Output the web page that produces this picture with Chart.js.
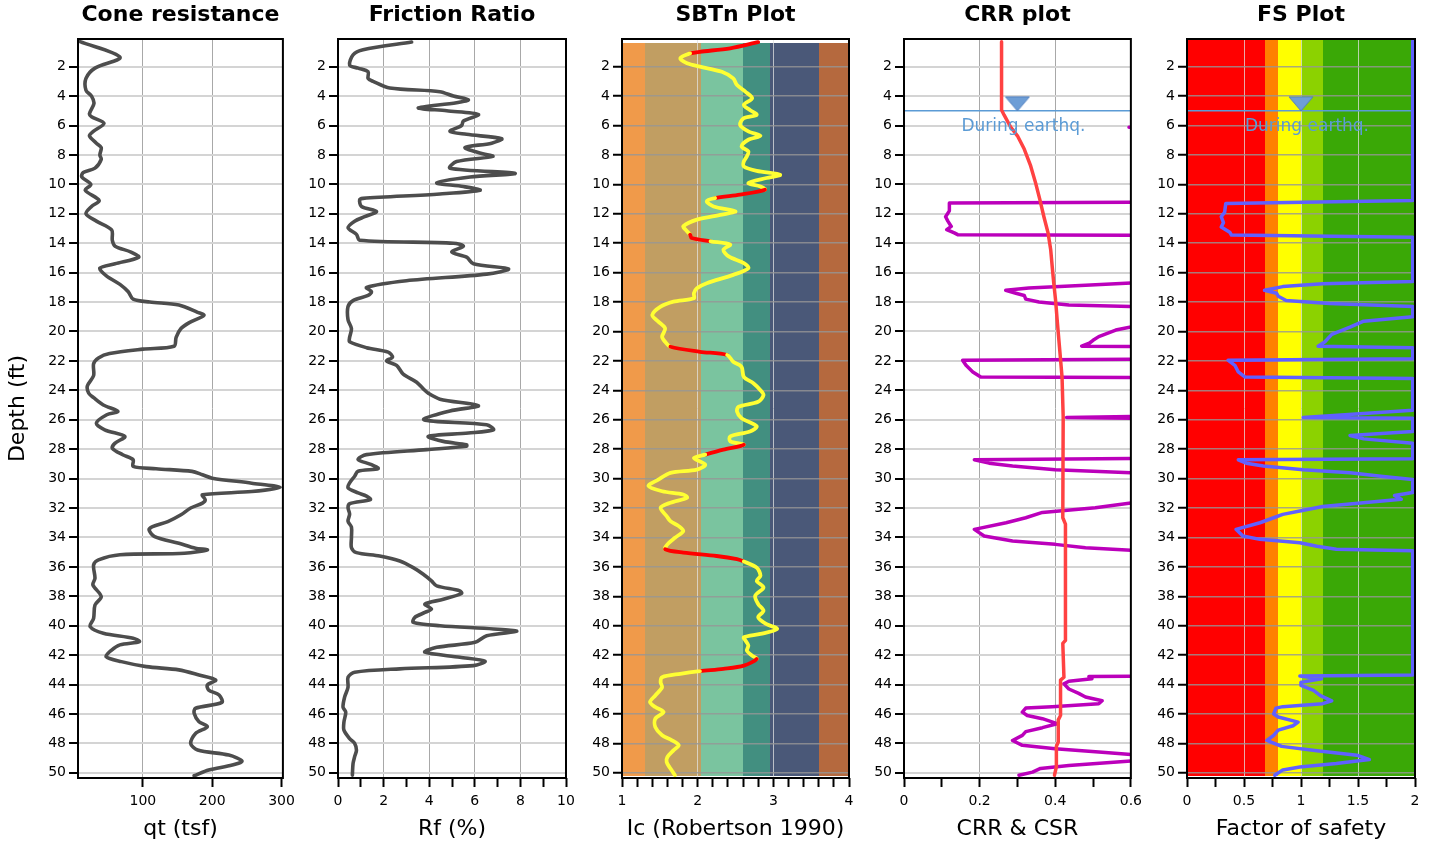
<!DOCTYPE html>
<html>
<head>
<meta charset="utf-8">
<title>CPT liquefaction plots</title>
<script src="https://cdn.jsdelivr.net/npm/chart.js@4.4.1/dist/chart.umd.min.js"></script>
<style>
  body { margin: 0; background: #fff; }
  #wrap { position: relative; width: 1431px; height: 847px; overflow: hidden; }
  #wrap canvas { position: absolute; top: 0; }
</style>
</head>
<body>
<div id="wrap">
  <canvas id="qt" width="301" height="847" style="left:0px"></canvas>
  <canvas id="rf" width="284" height="847" style="left:298px"></canvas>
  <canvas id="ic" width="283" height="847" style="left:582px"></canvas>
  <canvas id="crr" width="284" height="847" style="left:864px"></canvas>
  <canvas id="fs" width="284" height="847" style="left:1147px"></canvas>
</div>
<script>
const FONT = '"DejaVu Sans", Verdana, sans-serif';

// depth axis (ft)
const depthTicks = [2, 4, 6, 8, 10, 12, 14, 16, 18, 20, 22, 24, 26, 28, 30, 32, 34, 36, 38, 40, 42, 44, 46, 48, 50];

// cone resistance qt (tsf)
const qtDepth = [0.3, 1.36, 2.1, 2.8, 3.6, 4.0, 4.5, 5.2, 5.4, 5.85, 6.4, 6.7, 7.2, 7.5, 8.0, 8.3, 8.9, 9.2, 9.5, 10.0,
  10.4, 11.1, 11.5, 12.0, 12.5, 13.1, 13.8, 14.2, 14.6, 14.95, 15.4, 15.7, 16.2, 16.8, 17.3, 17.8, 18.0, 18.2, 18.7, 18.9,
  19.4, 19.8, 20.4, 21.0, 21.2, 21.5, 21.8, 22.2, 23.0, 23.7, 24.2, 24.5, 25.0, 25.43, 25.66, 26.23, 26.68, 27.13, 27.59, 27.93,
  28.38, 28.72, 29.17, 29.33, 29.51, 29.74, 29.97, 30.31, 30.6, 30.88, 31.1, 31.44, 31.67, 32.0, 32.46, 32.92, 33.26, 33.48, 33.94, 34.39,
  34.73, 34.84, 35.07, 35.18, 35.52, 35.86, 36.77, 37.22, 38.02, 38.59, 39.5, 40.06, 40.51, 40.85, 41.08, 41.3, 41.65, 42.1, 42.44, 42.78,
  43.0, 43.35, 43.69, 44.03, 44.37, 44.71, 45.21, 45.61, 45.95, 46.52, 46.86, 47.32, 48.0, 48.45, 48.79, 49.2, 49.47, 49.81, 50.2];
const qtValues = [9.5, 67, 31, 18, 18, 26, 29.5, 23, 26, 44, 28.6, 23, 33, 40, 38, 40, 31, 14, 12, 25,
  17, 37, 26, 18, 33, 55, 56, 60, 83, 94, 60, 38, 47, 67, 79, 86, 110, 152, 179, 188,
  167, 155, 148, 145, 100, 52, 36, 29, 29, 20, 22, 29, 43, 64, 48, 33, 45, 74, 60, 56,
  71, 86, 86, 119, 171, 186, 200, 257, 298, 257, 186, 190, 186, 169, 155, 136, 114, 109, 117, 152,
  176, 193, 160, 67, 36, 29, 31, 28, 40, 31, 29, 24, 43, 86, 95, 67, 55, 47, 69, 105,
  152, 181, 205, 193, 195, 210, 214, 176, 174, 181, 193, 176, 169, 179, 224, 243, 229, 195, 174];

// friction ratio Rf (%)
const rfDepth = [0.33, 0.85, 1.2, 1.9, 2.1, 2.35, 2.8, 3.0, 3.45, 3.7, 4.0, 4.25, 4.45, 4.8, 5.0, 5.25, 5.7, 6.0, 6.4, 6.6,
  6.9, 7.2, 7.5, 7.9, 8.1, 8.45, 8.9, 9.25, 9.5, 9.9, 10.15, 10.4, 10.65, 10.95, 11.05, 11.5, 11.85, 12.2, 12.5, 12.95,
  13.4, 13.8, 14.0, 14.2, 14.6, 14.95, 15.4, 15.75, 16.1, 16.55, 17.0, 17.3, 17.55, 17.9, 18.3, 19.2, 19.8, 20.4, 20.7, 21.1,
  21.4, 21.75, 22.0, 22.3, 22.9, 23.45, 23.9, 24.2, 24.6, 25.05, 25.4, 26.0, 26.34, 26.68, 26.9, 27.13, 27.47, 27.7, 27.8, 28.03,
  28.37, 28.7, 29.05, 29.32, 29.5, 29.84, 30.29, 30.63, 30.97, 31.19, 31.42, 31.71, 31.98, 32.4, 32.9, 33.3, 34.0, 34.7, 35.03, 35.26,
  35.6, 36.05, 36.5, 36.95, 37.29, 37.63, 37.81, 38.2, 38.53, 38.87, 39.1, 39.43, 39.77, 40.0, 40.22, 40.38, 40.68, 41.13, 41.47, 41.8,
  42.14, 42.41, 42.71, 42.93, 43.16, 43.5, 44.18, 44.85, 45.53, 45.87, 46.55, 47.1, 47.67, 48.0, 48.47, 48.9, 49.37, 50.16];
const rfValues = [3.23, 1.1, 0.66, 0.51, 0.88, 1.32, 1.32, 1.54, 2.27, 4.47, 5.06, 5.72, 5.2, 3.52, 4.77, 6.16, 5.5, 5.42, 4.91, 5.64,
  7.18, 6.74, 5.57, 6.3, 6.79, 5.2, 4.91, 7.77, 5.79, 4.33, 5.5, 6.23, 4.47, 1.1, 0.95, 1.03, 1.69, 1.17, 0.73, 0.44,
  0.81, 0.95, 5.06, 5.5, 4.99, 5.64, 5.94, 7.48, 6.52, 3.0, 1.25, 1.47, 1.32, 0.66, 0.44, 0.44, 0.59, 0.51, 0.51, 1.25,
  2.2, 2.39, 2.13, 2.57, 2.86, 3.45, 3.74, 3.96, 4.47, 6.16, 4.91, 3.77, 6.52, 6.82, 5.72, 3.96, 4.62, 5.64, 5.64, 3.89,
  1.25, 0.88, 1.47, 1.76, 0.88, 0.73, 0.51, 0.44, 0.88, 1.25, 1.42, 0.51, 0.44, 0.51, 0.44, 0.59, 0.59, 0.59, 0.81, 1.83,
  2.71, 3.3, 3.74, 4.1, 4.33, 5.35, 5.42, 4.62, 3.81, 4.1, 3.81, 3.37, 3.3, 4.47, 6.82, 7.84, 6.52, 6.01, 4.33, 3.81,
  5.35, 6.45, 5.94, 2.71, 0.73, 0.44, 0.44, 0.29, 0.22, 0.34, 0.26, 0.26, 0.51, 0.73, 0.81, 0.73, 0.66, 0.63];

// soil behaviour type index Ic
const icDepth = [0.33, 0.75, 0.99, 1.1, 1.44, 1.77, 2.0, 2.35, 2.8, 3.25, 3.7, 4.15, 4.6, 4.95, 5.27, 5.5, 5.95, 6.4, 6.7, 6.97,
  7.42, 7.76, 8.1, 8.44, 8.78, 9.08, 9.35, 9.57, 9.91, 10.14, 10.36, 10.7, 10.93, 11.15, 11.5, 11.83, 12.06, 12.4, 12.85, 13.08,
  13.42, 13.65, 13.87, 14.1, 14.44, 14.9, 15.35, 15.7, 16.15, 16.72, 17.06, 17.4, 17.74, 17.97, 18.31, 18.88, 19.33, 19.79, 20.35, 20.7,
  21.04, 21.38, 21.6, 22.06, 22.4, 23.08, 23.53, 23.99, 24.33, 24.78, 25.12, 25.44, 25.9, 26.45, 26.8, 27.13, 27.47, 27.7, 28.03, 28.37,
  28.6, 29.05, 29.39, 29.61, 30.07, 30.5, 30.86, 31.08, 31.3, 31.64, 31.98, 32.55, 32.89, 33.23, 33.57, 34.02, 34.47, 34.8, 35.03, 35.26,
  35.48, 35.64, 36.05, 36.6, 36.95, 37.4, 37.97, 38.53, 38.98, 39.43, 39.89, 40.22, 40.56, 40.79, 41.0, 41.35, 41.69, 42.03, 42.26, 42.71,
  42.93, 43.09, 43.27, 43.5, 43.84, 44.18, 44.74, 45.19, 45.53, 45.87, 46.32, 46.89, 47.45, 47.79, 48.13, 48.47, 48.92, 49.26, 49.71, 50.16];
const icValues = [2.80, 2.43, 2.03, 1.90, 1.77, 1.86, 2.03, 2.32, 2.47, 2.52, 2.63, 2.72, 2.61, 2.69, 2.78, 2.61, 2.56, 2.67, 2.83, 2.67,
  2.58, 2.67, 2.65, 2.61, 2.61, 2.78, 3.09, 2.91, 2.67, 2.83, 2.89, 2.56, 2.23, 2.12, 2.21, 2.50, 2.32, 1.99, 1.81, 1.84,
  1.90, 1.92, 2.17, 2.43, 2.34, 2.41, 2.61, 2.67, 2.47, 2.12, 1.99, 1.95, 1.95, 1.68, 1.51, 1.40, 1.48, 1.57, 1.53, 1.57,
  1.64, 2.03, 2.39, 2.47, 2.58, 2.61, 2.74, 2.83, 2.87, 2.80, 2.54, 2.52, 2.58, 2.78, 2.69, 2.43, 2.43, 2.61, 2.34, 2.10,
  1.95, 2.10, 1.99, 1.64, 1.48, 1.35, 1.53, 1.81, 1.86, 1.64, 1.51, 1.59, 1.64, 1.75, 1.81, 1.70, 1.60, 1.57, 1.81, 2.25,
  2.52, 2.61, 2.78, 2.83, 2.78, 2.87, 2.76, 2.80, 2.87, 2.80, 2.91, 3.05, 2.83, 2.61, 2.63, 2.67, 2.65, 2.72, 2.78, 2.61,
  2.34, 2.03, 1.77, 1.53, 1.51, 1.53, 1.44, 1.37, 1.44, 1.55, 1.44, 1.44, 1.53, 1.66, 1.75, 1.68, 1.60, 1.59, 1.64, 1.70];
// depth ranges drawn in red on the Ic curve
const icRedRanges = [[0.3, 1.1], [10.36, 10.93], [13.42, 13.87], [21.04, 21.6], [27.7, 28.37], [34.8, 35.64], [42.26, 43.09]];
// SBTn zone edges and colours
const icZoneEdges = [1, 1.31, 2.05, 2.6, 2.95, 3.6, 4];
const icZoneColors = ['#F09A4A', '#C19E62', '#7AC49F', '#428F80', '#4A5878', '#B5693E'];
const icZoneDepth = [0.4, 50.2];

// CSR (red) and CRR (purple)
const csrDepth = [0.3, 4.95, 5.3, 6.1, 6.7, 7.6, 8.75, 9.9, 11.0, 12.2, 13.3, 14.45, 15.6, 16.7, 17.9, 19.2, 21.0, 23.1, 25.8, 32.66,
  33.1, 41.0, 41.2, 43.5, 43.7, 46.1, 46.4, 47.9, 48.2, 49.6, 50.16];
const csrValues = [0.258, 0.258, 0.265, 0.282, 0.300, 0.318, 0.335, 0.348, 0.359, 0.370, 0.381, 0.388, 0.392, 0.396, 0.401, 0.405, 0.411, 0.418, 0.421, 0.420,
  0.427, 0.427, 0.420, 0.423, 0.414, 0.414, 0.408, 0.408, 0.403, 0.403, 0.398];
const crrDepth = [0.3, 6.0, 6.12, 6.25, 11.2, 11.26, 11.8, 12.2, 12.5, 12.86, 13.08, 13.3, 13.42, 13.48, 16.6, 16.7, 16.85, 17.05, 17.2, 17.4,
  17.55, 17.8, 18.0, 18.2, 18.3, 18.4, 19.6, 19.7, 19.9, 20.35, 20.6, 20.8, 21.0, 21.05, 21.85, 21.95, 22.3, 22.75, 23.1, 23.15,
  25.7, 25.85, 25.95, 28.6, 28.72, 28.95, 29.15, 29.4, 29.6, 29.7, 31.55, 31.65, 31.98, 32.3, 32.66, 33.0, 33.45, 33.9, 34.24, 34.47,
  34.7, 34.87, 34.95, 43.4, 43.45, 43.6, 43.77, 43.95, 44.3, 44.6, 44.85, 45.1, 45.3, 45.5, 45.6, 45.87, 46.1, 46.32, 46.66, 46.93,
  47.2, 47.45, 47.8, 48.13, 48.36, 48.6, 48.75, 48.85, 49.1, 49.2, 49.5, 49.7, 49.95, 50.16];
const crrValues = [0.8, 0.8, 0.595, 0.8, 0.8, 0.12, 0.12, 0.11, 0.116, 0.125, 0.113, 0.133, 0.142, 0.8, 0.8, 0.6, 0.48, 0.33, 0.269, 0.296,
  0.318, 0.322, 0.357, 0.436, 0.6, 0.8, 0.8, 0.6, 0.56, 0.515, 0.50, 0.49, 0.47, 0.8, 0.8, 0.155, 0.164, 0.182, 0.203, 0.8,
  0.8, 0.43, 0.8, 0.8, 0.186, 0.225, 0.287, 0.40, 0.6, 0.8, 0.8, 0.6, 0.506, 0.366, 0.322, 0.27, 0.186, 0.212, 0.287, 0.40,
  0.48, 0.6, 0.8, 0.8, 0.489, 0.497, 0.436, 0.423, 0.436, 0.462, 0.48, 0.524, 0.515, 0.392, 0.322, 0.313, 0.326, 0.366, 0.405, 0.366,
  0.322, 0.313, 0.287, 0.313, 0.40, 0.524, 0.6, 0.8, 0.8, 0.6, 0.436, 0.361, 0.34, 0.304];

// factor of safety (capped at 2)
const fsDepth = [0.25, 11.1, 11.3, 11.9, 12.2, 12.6, 12.9, 13.25, 13.45, 13.6, 16.6, 16.75, 16.95, 17.2, 17.4, 17.6, 17.9, 18.1, 18.3, 19.0,
  19.3, 19.7, 20.2, 20.7, 21.0, 21.1, 21.85, 21.95, 22.3, 22.75, 23.1, 23.2, 25.35, 25.85, 25.9, 26.8, 27.07, 27.3, 27.6, 28.65,
  28.72, 28.95, 29.15, 29.4, 29.6, 29.85, 30.06, 30.95, 31.15, 31.4, 31.9, 32.2, 32.43, 32.66, 33.0, 33.45, 33.9, 34.13, 34.36, 34.6,
  34.8, 34.9, 43.35, 43.42, 43.6, 43.85, 44.06, 44.4, 44.75, 45.1, 45.3, 45.5, 45.6, 46.0, 46.2, 46.55, 46.8, 47.1, 47.45, 47.8,
  48.2, 48.5, 48.8, 49.1, 49.37, 49.6, 49.8, 50.16];
const fsValues = [1.98, 1.98, 0.34, 0.33, 0.30, 0.32, 0.30, 0.375, 0.39, 1.98, 1.98, 1.19, 0.84, 0.68, 0.785, 0.80, 0.87, 1.25, 1.98, 1.98,
  1.55, 1.43, 1.27, 1.21, 1.15, 1.98, 1.98, 0.36, 0.42, 0.45, 0.51, 1.98, 1.98, 1.02, 1.98, 1.98, 1.43, 1.55, 1.98, 1.98,
  0.45, 0.52, 0.67, 1.02, 1.43, 1.72, 1.98, 1.98, 1.82, 1.88, 1.19, 0.99, 0.84, 0.76, 0.64, 0.43, 0.49, 0.64, 0.99, 1.14,
  1.31, 1.98, 1.98, 0.99, 1.18, 1.0, 1.0, 1.11, 1.17, 1.27, 1.19, 0.84, 0.78, 0.76, 0.80, 0.975, 0.93, 0.80, 0.76, 0.70,
  0.83, 1.14, 1.49, 1.6, 1.31, 0.99, 0.84, 0.77];
const fsZoneEdges = [0, 0.68, 0.8, 1.0, 1.19, 2];
const fsZoneColors = ['#FF0000', '#FF8000', '#FFFF00', '#8CD200', '#3AA806'];
const fsZoneDepth = [0.22, 50.2];

// water table
const waterDepth = 5;
const waterText = 'During earthq.';
const waterTextDepth = 6.05;
const waterColor = '#5B9BD5';

function points(depths, values) {
  return depths.map((d, i) => ({ x: values[i], y: d }));
}

function line(depths, values, color, width, tension) {
  return {
    data: points(depths, values), showLine: true, borderColor: color, borderWidth: width,
    pointRadius: 0, fill: false, tension: tension || 0, borderJoinStyle: 'round', borderCapStyle: 'round'
  };
}

// down-pointing triangle marker, apex at the image centre
const tri = document.createElement('canvas');
tri.width = 26; tri.height = 30;
(function () {
  const t = tri.getContext('2d');
  t.beginPath(); t.moveTo(1, 1); t.lineTo(25, 1); t.lineTo(13, 15); t.closePath();
  t.fillStyle = '#6E9ED6'; t.fill();
  t.strokeStyle = '#4F7FBF'; t.lineWidth = 1; t.stroke();
})();

function waterDatasets(xMin, xMax, xMark) {
  return [
    { data: [{ x: xMark, y: waterDepth }], pointStyle: tri, pointRadius: 12, showLine: false },
    { data: [{ x: xMin, y: waterDepth }, { x: xMax, y: waterDepth }], showLine: true, borderColor: waterColor, borderWidth: 1.5, pointRadius: 0 }
  ];
}

const frame = {
  id: 'frame',
  afterDraw(chart) {
    const { ctx, chartArea: a } = chart;
    ctx.save();
    ctx.strokeStyle = '#000';
    ctx.lineWidth = 2;
    ctx.strokeRect(a.left, a.top, a.right - a.left, a.bottom - a.top);
    ctx.restore();
  }
};

function zones(edges, colors, depthRange) {
  return {
    id: 'zones',
    beforeDraw(chart) {
      const { ctx, chartArea: a, scales: { x, y } } = chart;
      ctx.save();
      ctx.beginPath(); ctx.rect(a.left, a.top, a.right - a.left, a.bottom - a.top); ctx.clip();
      const top = Math.round(y.getPixelForValue(depthRange[0]));
      const bot = Math.round(y.getPixelForValue(depthRange[1]));
      for (let i = 0; i < colors.length; i++) {
        const l = Math.round(x.getPixelForValue(edges[i]));
        const r = Math.round(x.getPixelForValue(edges[i + 1]));
        ctx.fillStyle = colors[i];
        ctx.fillRect(l, top, r - l, bot - top);
      }
      ctx.restore();
    }
  };
}

function waterLabel(xMark) {
  return {
    id: 'waterLabel',
    afterDatasetsDraw(chart) {
      const { ctx, scales: { x, y } } = chart;
      ctx.save();
      ctx.font = '17px ' + FONT;
      ctx.fillStyle = waterColor;
      ctx.textAlign = 'center';
      ctx.textBaseline = 'middle';
      ctx.fillText(waterText, x.getPixelForValue(xMark) + 6, y.getPixelForValue(waterTextDepth));
      ctx.restore();
    }
  };
}

function panel(id, o) {
  const yWidth = o.yTitle ? 78 : 40;
  return new Chart(document.getElementById(id), {
    type: 'scatter',
    data: { datasets: o.datasets },
    options: {
      responsive: false,
      animation: false,
      devicePixelRatio: 1,
      layout: { padding: { left: 0, right: 16, top: 0, bottom: 0 } },
      plugins: {
        legend: { display: false },
        tooltip: { enabled: false },
        title: {
          display: true, text: o.title, color: '#000', fullSize: false,
          font: { family: FONT, size: 22, weight: 'bold' },
          padding: { top: 2, bottom: 10.6 }
        }
      },
      scales: {
        x: {
          type: 'linear', position: 'bottom', min: o.xMin, max: o.xMax,
          afterBuildTicks: s => { s.ticks = o.xTicks.map(v => ({ value: v })); },
          afterFit: s => { s.height = 69; },
          ticks: {
            autoSkip: false, maxRotation: 0, color: '#000', padding: 6,
            font: { family: FONT, size: 14 },
            callback: v => o.xLabels.includes(v) ? String(v) : ''
          },
          grid: {
            color: c => (c.tick && o.xLabels.includes(c.tick.value) && c.tick.value > o.xMin && c.tick.value < o.xMax - 0.01 * (o.xMax - o.xMin)) ? o.vGrid : 'rgba(0,0,0,0)',
            lineWidth: 1, tickColor: '#000', tickLength: 9, tickWidth: 2
          },
          border: { display: false },
          title: { display: true, text: o.xTitle, color: '#000', font: { family: FONT, size: 22 }, padding: { top: 0, bottom: 5 } }
        },
        y: {
          type: 'linear', reverse: true, min: 0.12, max: 50.35,
          afterBuildTicks: s => { s.ticks = depthTicks.map(v => ({ value: v })); },
          afterFit: s => { s.width = yWidth; },
          ticks: { autoSkip: false, color: '#000', padding: 3, font: { family: FONT, size: 14 }, callback: v => String(v) },
          grid: { color: o.hGrid, lineWidth: o.hGridWidth, tickColor: '#000', tickLength: 9, tickWidth: 2 },
          border: { display: false },
          title: o.yTitle
            ? { display: true, text: o.yTitle, color: '#000', font: { family: FONT, size: 22 }, padding: { top: 5, bottom: 0 } }
            : { display: false }
        }
      }
    },
    plugins: [frame].concat(o.plugins || [])
  });
}

panel('qt', {
  title: 'Cone resistance', xTitle: 'qt (tsf)', yTitle: 'Depth (ft)',
  xMin: 6.5, xMax: 302, xTicks: [100, 200, 300], xLabels: [100, 200, 300],
  vGrid: '#A8A8A8', hGrid: '#D4D4D4', hGridWidth: 2,
  datasets: [line(qtDepth, qtValues, '#4D4D4D', 3.6, 0.3)]
});

panel('rf', {
  title: 'Friction Ratio', xTitle: 'Rf (%)',
  xMin: 0, xMax: 10, xTicks: [0, 1, 2, 3, 4, 5, 6, 7, 8, 9, 10], xLabels: [0, 2, 4, 6, 8, 10],
  vGrid: '#A8A8A8', hGrid: '#D4D4D4', hGridWidth: 2,
  datasets: [line(rfDepth, rfValues, '#4D4D4D', 3.6, 0.3)]
});

const icLine = line(icDepth, icValues, '#FFFF33', 3.8, 0.3);
icLine.segment = {
  borderColor: c => {
    const m = (c.p0.parsed.y + c.p1.parsed.y) / 2;
    return icRedRanges.some(r => m >= r[0] && m <= r[1]) ? '#FF0000' : '#FFFF33';
  }
};
panel('ic', {
  title: 'SBTn Plot', xTitle: 'Ic (Robertson 1990)',
  xMin: 1, xMax: 4,
  xTicks: [1, 1.2, 1.4, 1.6, 1.8, 2, 2.2, 2.4, 2.6, 2.8, 3, 3.2, 3.4, 3.6, 3.8, 4], xLabels: [1, 2, 3, 4],
  vGrid: 'rgba(225,225,225,0.75)', hGrid: 'rgba(150,150,150,0.8)', hGridWidth: 1.5,
  datasets: [icLine],
  plugins: [zones(icZoneEdges, icZoneColors, icZoneDepth)]
});

panel('crr', {
  title: 'CRR plot', xTitle: 'CRR & CSR',
  xMin: 0, xMax: 0.6, xTicks: [0, 0.1, 0.2, 0.3, 0.4, 0.5, 0.6], xLabels: [0, 0.2, 0.4, 0.6],
  vGrid: '#A8A8A8', hGrid: '#D4D4D4', hGridWidth: 2,
  datasets: [line(csrDepth, csrValues, '#FF4242', 3.5), line(crrDepth, crrValues, '#BB00BB', 3.5)].concat(waterDatasets(0, 0.6, 0.3)),
  plugins: [waterLabel(0.3)]
});

panel('fs', {
  title: 'FS Plot', xTitle: 'Factor of safety',
  xMin: 0, xMax: 2, xTicks: [0, 0.25, 0.5, 0.75, 1, 1.25, 1.5, 1.75, 2], xLabels: [0, 0.5, 1, 1.5, 2],
  vGrid: 'rgba(225,225,225,0.75)', hGrid: 'rgba(150,150,150,0.8)', hGridWidth: 1.5,
  datasets: [line(fsDepth, fsValues, '#6060FF', 3.5)].concat(waterDatasets(0, 2, 1)),
  plugins: [zones(fsZoneEdges, fsZoneColors, fsZoneDepth), waterLabel(1)]
});
</script>
</body>
</html>
